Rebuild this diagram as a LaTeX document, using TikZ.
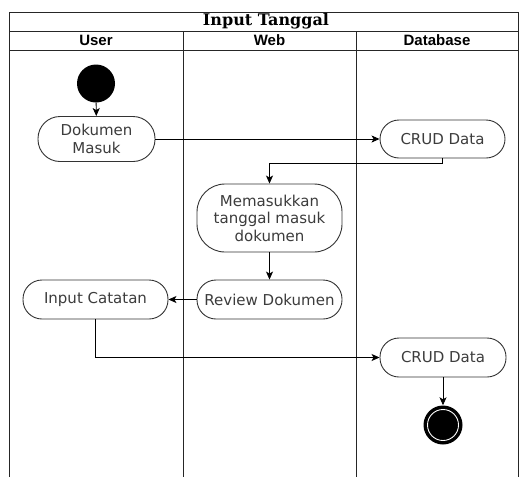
\documentclass[tikz,border=0pt]{standalone}
\usepackage{fontspec}
\setmainfont{DejaVu Sans}
\newfontfamily\titlefont{DejaVu Serif}
\newfontfamily\headfont{Liberation Sans}
\usetikzlibrary{arrows.meta}
\definecolor{edgegray}{HTML}{333333}
\definecolor{textgray}{HTML}{3C3C3C}
\begin{document}
\begin{tikzpicture}[x=1pt,y=-1pt,
  lane/.style={draw=black!85, line width=1pt},
  act/.style={draw=edgegray, line width=0.9pt, rounded corners=19pt, fill=white,
    text=textgray, align=center, inner sep=0pt,
    font=\fontsize{15}{17.5}\selectfont},
  flow/.style={draw=black, line width=0.9pt, -{Stealth[length=8pt,width=7pt,inset=2pt]}},
  head/.style={font=\headfont\bfseries\fontsize{15}{17}\selectfont, text=black}
]
\useasboundingbox (0,0) rectangle (519,477);
\fill[white] (0,0) rectangle (519,477);

% swimlane frame, title and lane headers
\draw[lane] (9,477) -- (9,12) -- (518,12) -- (518,477);
\draw[lane] (9,31) -- (518,31);
\draw[lane] (9,50) -- (518,50);
\draw[lane] (183,31) -- (183,477);
\draw[lane] (356,31) -- (356,477);
\node[font=\titlefont\bfseries\fontsize{16}{17}\selectfont] (title) at (266,21.5) {Input Tanggal};
\node[head] (huser) at (96,40.5) {User};
\node[head] (hweb) at (269.5,40.5) {Web};
\node[head] (hdb) at (437,40.5) {Database};

% activities
\node[circle, fill=black, minimum size=38pt, inner sep=0pt] (start) at (96,83.5) {};
\node[act, minimum width=117pt, minimum height=45pt, rounded corners=22pt] (dok) at (96.5,139) {Dokumen\\Masuk};
\node[act, minimum width=125pt, minimum height=38pt] (crud1) at (442.5,139) {CRUD Data};
\node[act, minimum width=145pt, minimum height=68pt, rounded corners=28pt] (mem) at (269.5,218) {Memasukkan\\tanggal masuk\\dokumen};
\node[act, minimum width=145pt, minimum height=39pt] (rev) at (269.5,299.5) {Review Dokumen};
\node[act, minimum width=145pt, minimum height=39pt] (inp) at (95.5,299.5) {Input Catatan};
\node[act, minimum width=126pt, minimum height=39pt] (crud2) at (443,357.5) {CRUD Data};
\node[circle, fill=black, minimum size=39pt, inner sep=0pt] (end) at (443,425) {};
\draw[white, line width=0.9pt] (end.center) circle[radius=15.5pt];

% control flow
\draw[flow] (start) -- (dok);
\draw[flow] (dok) -- (crud1);
\draw[flow] (crud1.south) -- ++(0,5) -| (mem.north);
\draw[flow] (mem) -- (rev);
\draw[flow] (rev) -- (inp);
\draw[flow] (inp.south) |- (crud2.west);
\draw[flow] (crud2) -- (end);
\end{tikzpicture}
\end{document}
